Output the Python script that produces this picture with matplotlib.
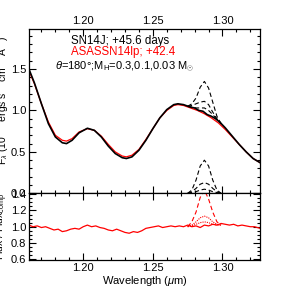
import matplotlib
matplotlib.use("Agg")
import matplotlib.pyplot as plt
from matplotlib.ticker import MultipleLocator

plt.rcParams['font.family'] = ['Liberation Sans', 'DejaVu Sans']
plt.rcParams['mathtext.fontset'] = 'custom'
plt.rcParams['mathtext.rm'] = 'Liberation Sans'
plt.rcParams['mathtext.it'] = 'Liberation Sans:italic'

# SN2014J spectrum (black)
wave_sn = [1.161, 1.165, 1.170, 1.175, 1.180, 1.185, 1.188, 1.192, 1.197, 1.203,
           1.208, 1.213, 1.218, 1.223, 1.228, 1.231, 1.235, 1.240, 1.245, 1.250,
           1.255, 1.260, 1.265, 1.268, 1.272, 1.277, 1.280, 1.283, 1.286, 1.289,
           1.292, 1.295, 1.298, 1.302, 1.307, 1.312, 1.317, 1.322, 1.327]
flux_sn = [1.50, 1.33, 1.08, 0.84, 0.68, 0.61, 0.60, 0.64, 0.73, 0.785,
           0.76, 0.68, 0.57, 0.48, 0.43, 0.42, 0.44, 0.52, 0.64, 0.78,
           0.91, 1.01, 1.07, 1.08, 1.07, 1.04, 1.03, 1.00, 0.99, 0.95,
           0.93, 0.90, 0.86, 0.79, 0.69, 0.59, 0.50, 0.42, 0.37]

# ASASSN-14lp spectrum (red)
wave_as = [1.161, 1.165, 1.170, 1.175, 1.180, 1.185, 1.188, 1.192, 1.197, 1.203,
           1.208, 1.213, 1.218, 1.223, 1.228, 1.231, 1.235, 1.240, 1.245, 1.250,
           1.255, 1.260, 1.265, 1.268, 1.272, 1.277, 1.282, 1.287, 1.292, 1.297,
           1.302, 1.307, 1.312, 1.317, 1.322, 1.327]
flux_as = [1.48, 1.32, 1.08, 0.86, 0.70, 0.64, 0.63, 0.66, 0.74, 0.78,
           0.76, 0.69, 0.59, 0.50, 0.45, 0.44, 0.46, 0.53, 0.65, 0.78,
           0.91, 1.00, 1.06, 1.07, 1.06, 1.03, 1.00, 0.96, 0.91, 0.85,
           0.77, 0.68, 0.59, 0.50, 0.42, 0.37]

# model H lines added to SN2014J (M_H = 0.3, 0.1, 0.03 Msun)
wave_mod = [1.275, 1.278, 1.281, 1.284, 1.287, 1.290, 1.293, 1.296, 1.299]
mod_03 = [1.05, 1.08, 1.15, 1.28, 1.35, 1.27, 1.10, 0.93, 0.84]
mod_01 = [1.05, 1.06, 1.08, 1.10, 1.11, 1.07, 0.98, 0.90, 0.84]
mod_003 = [1.05, 1.04, 1.03, 1.03, 1.03, 1.00, 0.95, 0.89, 0.84]
line_03 = [0.00, 0.04, 0.16, 0.33, 0.40, 0.33, 0.16, 0.04, 0.00]
line_01 = [0.00, 0.02, 0.06, 0.11, 0.13, 0.11, 0.06, 0.02, 0.00]
line_003 = [0.00, 0.01, 0.02, 0.04, 0.05, 0.04, 0.02, 0.01, 0.00]

# ratio SN2014J / ASASSN-14lp
wave_rat = [1.161, 1.164, 1.167, 1.170, 1.173, 1.176, 1.179, 1.182, 1.185, 1.188,
            1.191, 1.194, 1.197, 1.200, 1.203, 1.206, 1.209, 1.212, 1.215, 1.218,
            1.221, 1.224, 1.227, 1.230, 1.233, 1.236, 1.239, 1.242, 1.245, 1.248,
            1.251, 1.254, 1.257, 1.260, 1.263, 1.266, 1.269, 1.272, 1.275, 1.278,
            1.281, 1.284, 1.287, 1.290, 1.293, 1.296, 1.299, 1.302, 1.305, 1.308,
            1.311, 1.314, 1.317, 1.320, 1.323, 1.327]
ratio = [1.02, 1.00, 1.01, 0.99, 1.00, 0.98, 0.96, 0.97, 0.94, 0.95,
         0.97, 0.98, 0.97, 1.00, 1.02, 1.00, 1.01, 0.99, 0.98, 0.96,
         0.95, 0.97, 0.95, 0.93, 0.92, 0.94, 0.93, 0.95, 0.98, 0.99,
         1.00, 1.01, 0.99, 1.00, 1.01, 1.00, 1.01, 1.00, 1.02, 1.00,
         1.01, 0.99, 1.02, 1.01, 1.03, 1.02, 1.04, 1.03, 1.02, 1.03,
         1.01, 1.02, 1.01, 1.00, 1.00, 0.98]
rat_03 = [1.00, 1.06, 1.18, 1.36, 1.45, 1.34, 1.18, 1.06, 1.02]
rat_01 = [1.00, 1.02, 1.06, 1.11, 1.13, 1.11, 1.06, 1.03, 1.02]
rat_003 = [1.00, 1.01, 1.03, 1.05, 1.06, 1.05, 1.03, 1.02, 1.02]

fs = 8
fig = plt.figure(figsize=(2.89, 2.89), dpi=100)
ax1 = fig.add_axes([0.100, 0.331, 0.800, 0.568])
ax2 = fig.add_axes([0.100, 0.100, 0.800, 0.231])

ax1.plot(wave_as, flux_as, color='red', lw=0.9)
ax1.plot(wave_sn, flux_sn, color='black', lw=1.2)
for m in (mod_03, mod_01, mod_003):
    ax1.plot(wave_mod, m, color='black', lw=0.8, ls=(0, (4, 2.5)))
for m in (line_03, line_01, line_003):
    ax1.plot(wave_mod, m, color='black', lw=0.8, ls=(0, (4, 2.5)))

ax2.plot(wave_rat, ratio, color='red', lw=0.9)
ax2.plot(wave_mod, rat_03, color='red', lw=0.8, ls=(0, (4, 2.5)))
ax2.plot(wave_mod, rat_01, color='red', lw=0.8, ls=(0, (1, 1)))
ax2.plot(wave_mod, rat_003, color='red', lw=0.8, ls=(0, (1, 1)))

for ax in (ax1, ax2):
    ax.set_xlim(1.161, 1.327)
    ax.xaxis.set_major_locator(MultipleLocator(0.05))
    ax.xaxis.set_minor_locator(MultipleLocator(0.01))
    ax.tick_params(which='both', direction='in', top=True, right=True,
                   labelsize=fs, pad=2, width=0.8)
    ax.tick_params(which='major', length=5)
    ax.tick_params(which='minor', length=2.5)
    for s in ax.spines.values():
        s.set_linewidth(0.9)

ax1.set_ylim(0.0, 1.98)
ax1.yaxis.set_major_locator(MultipleLocator(0.5))
ax1.yaxis.set_minor_locator(MultipleLocator(0.1))
ax1.tick_params(axis='x', labelbottom=False, labeltop=True)
ax1.set_ylabel(r'F$_\lambda$ (10$^{-15}$ ergs s$^{-1}$ cm$^{-2}$ Å$^{-1}$)',
               fontsize=fs - 0.5)
ax1.yaxis.set_label_coords(-0.082, 0.57)

ax2.set_ylim(0.59, 1.41)
ax2.yaxis.set_major_locator(MultipleLocator(0.2))
ax2.yaxis.set_minor_locator(MultipleLocator(0.05))
ax2.set_xlabel(r'Wavelength ($\mu$m)', fontsize=fs, labelpad=1)
ax2.set_ylabel(r'Flux / Flux$_{\rm comp}$', fontsize=fs - 0.5)
ax2.yaxis.set_label_coords(-0.082, 0.5)

ax1.text(0.18, 0.93, 'SN14J; +45.6 days', transform=ax1.transAxes,
         fontsize=fs + 0.3, color='black', va='center')
ax1.text(0.18, 0.86, 'ASASSN14lp; +42.4', transform=ax1.transAxes,
         fontsize=fs + 0.3, color='red', va='center')
ax1.text(0.115, 0.77, r'$\theta$=180°;M$_{\rm H}$=0.3,0.1,0.03 M$_{\odot}$',
         transform=ax1.transAxes, fontsize=fs, color='black', va='center')

fig.savefig('out.png', dpi=100)
